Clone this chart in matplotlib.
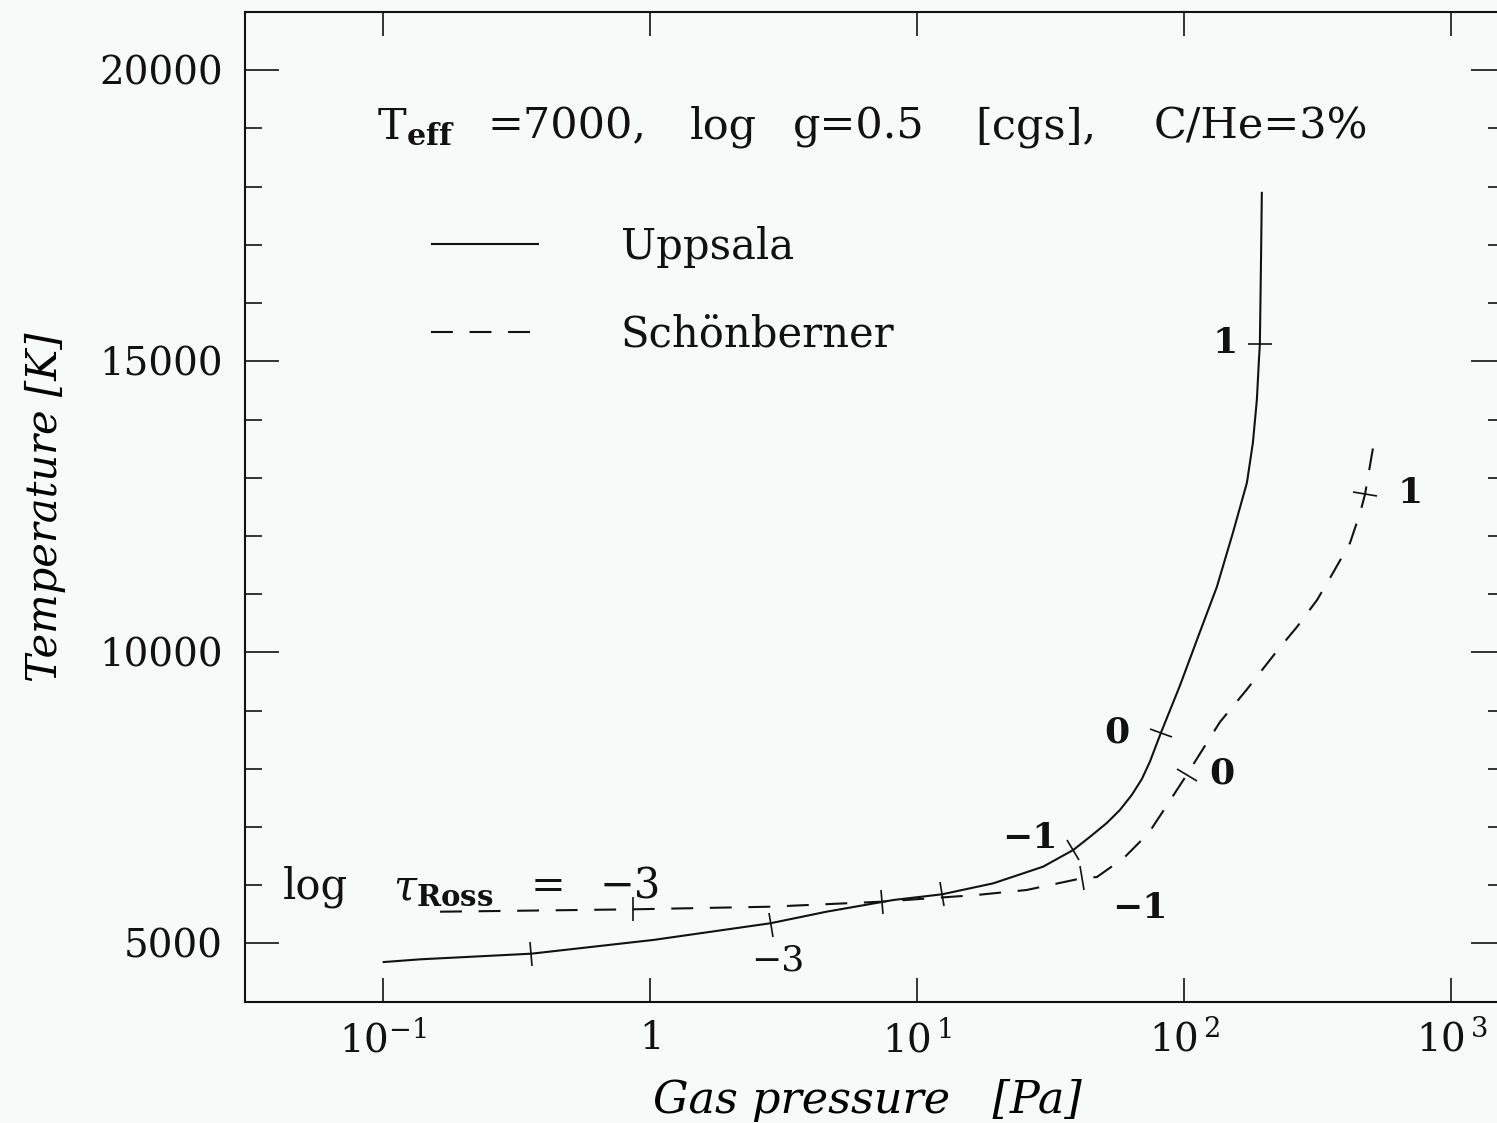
import numpy as np
import matplotlib
matplotlib.use("Agg")
import matplotlib.pyplot as plt
from matplotlib.markers import MarkerStyle
from matplotlib.transforms import Affine2D
from matplotlib.ticker import FixedLocator, FixedFormatter, MultipleLocator, NullLocator

# ---------------- data ----------------
upp_p = [0.100, 0.138, 0.36, 1.03, 2.82, 4.58, 8.15, 12.4, 19.3, 29.6, 38.4,
         44.3, 51.3, 57.4, 63.6, 69.4, 74.3, 81.7, 96.2, 114.4, 132.4, 152,
         171.5, 180.6, 186.9, 190.1, 191.8, 193.5, 195.1]
upp_t = [4680, 4728, 4825, 5061, 5347, 5546, 5747, 5845, 6034, 6319, 6606,
         6830, 7070, 7293, 7551, 7826, 8119, 8616, 9424, 10351, 11125, 12053,
         12912, 13599, 14338, 14991, 15300, 16571, 17911]

sch_p = [0.164, 0.865, 2.82, 7.36, 16.7, 25.7, 41.3, 47.1, 59.4, 73.6, 85.3,
         102, 136, 171, 224, 264, 314, 360, 417, 455, 475, 513]
sch_t = [5546, 5587, 5632, 5718, 5833, 5919, 6120, 6142, 6469, 6898, 7345,
         7894, 8805, 9357, 10044, 10437, 10901, 11365, 11880, 12396, 12722, 13616]

# log tau_Ross = -4 ... 1 markers
upp_tau = [-4, -3, -2, -1, 0, 1]
upp_tick_p = [0.36, 2.85, 12.4, 38.4, 81.7, 191.8]
upp_tick_t = [4825, 5318, 5845, 6606, 8616, 15300]
sch_tau = [-3, -2, -1, 0, 1]
sch_tick_p = [0.865, 7.36, 41.3, 102, 475]
sch_tick_t = [5587, 5718, 6120, 7894, 12722]

x_ticks = [0.1, 1, 10, 100, 1000]
x_tick_labels = [r"$10^{-1}$", r"$1$", r"$10^{\,1}$", r"$10^{\,2}$", r"$10^{\,3}$"]
y_ticks = [5000, 10000, 15000, 20000]
y_tick_labels = ["5000", "10000", "15000", "20000"]

series_names = ["Uppsala", "Schönberner"]

# ---------------- style ----------------
plt.rcParams["font.family"] = ["DejaVu Serif"]
plt.rcParams["mathtext.fontset"] = "dejavuserif"
BG = "#f6faf8"
INK = "#111111"

fig = plt.figure(figsize=(14.97, 11.23), dpi=100, facecolor=BG)
ax = fig.add_axes([0.1637, 0.108, 0.8416, 0.8813], facecolor=BG)

ax.set_xscale("log")
ax.set_xlim(10 ** -1.515, 10 ** 3.2)
ax.set_ylim(4000, 21000)

lw = 1.5
l1, = ax.plot(upp_p, upp_t, color=INK, lw=lw, solid_capstyle="butt")
l2, = ax.plot(sch_p, sch_t, color=INK, lw=lw, dashes=(10.5, 8.0))


def tau_ticks(cp, ct, tp, tt):
    D = ax.transData.transform(np.column_stack([cp, ct]))
    for p, t in zip(tp, tt):
        d = ax.transData.transform((p, t))
        i = int(np.argmin(np.hypot(*(D - d).T)))
        a = D[max(i - 1, 0)]
        b = D[min(i + 1, len(D) - 1)]
        ang = np.degrees(np.arctan2(b[1] - a[1], b[0] - a[0]))
        m = MarkerStyle("|", transform=Affine2D().rotate_deg(ang))
        ax.plot([p], [t], linestyle="none", marker=m, markersize=17,
                markeredgewidth=1.2, color=INK)


tau_ticks(upp_p, upp_t, upp_tick_p, upp_tick_t)
tau_ticks(sch_p, sch_t, sch_tick_p, sch_tick_t)

# ---------------- axes / ticks ----------------
for s in ax.spines.values():
    s.set_linewidth(1.5)
    s.set_color(INK)

ax.xaxis.set_major_locator(FixedLocator(x_ticks))
ax.xaxis.set_major_formatter(FixedFormatter(x_tick_labels))
ax.xaxis.set_minor_locator(NullLocator())
ax.yaxis.set_major_locator(FixedLocator(y_ticks))
ax.yaxis.set_major_formatter(FixedFormatter(y_tick_labels))
ax.yaxis.set_minor_locator(MultipleLocator(1000))

ax.tick_params(axis="both", which="both", direction="in", top=True, right=True,
               colors=INK, width=1.2)
ax.tick_params(axis="x", which="major", length=17, pad=13, labelsize=28)
ax.tick_params(axis="y", which="major", length=24.5, pad=16, labelsize=28)
ax.tick_params(axis="y", which="minor", length=12.5)

ax.set_xlabel("Gas pressure   [Pa]", fontsize=32, style="italic")
ax.set_ylabel("Temperature [K]", fontsize=30, style="italic")
ax.xaxis.set_label_coords(0.494, -0.0993)
ax.xaxis.label.set_verticalalignment("center")
ax.yaxis.set_label_coords(-0.159, 0.5)
ax.yaxis.label.set_verticalalignment("center")

# ---------------- annotations ----------------
def axx(px):
    return (px - 245) / 1260.0


title_pieces = [(r"T$_{\mathbf{eff}}$", 416), ("=7000,", 567), ("log", 723),
                ("g=0.5", 859), ("[cgs],", 1036), ("C/He=3%", 1261)]
for s, px in title_pieces:
    ax.text(axx(px), 0.884, s, transform=ax.transAxes, fontsize=31,
            ha="center", va="center", color=INK)

ross_pieces = [("log", 315), (r"$\tau_{\mathbf{Ross}}$", 443), ("=", 548), ("−3", 630)]
for s, px in ross_pieces:
    ax.text(axx(px), 0.116, s, transform=ax.transAxes, fontsize=30,
            ha="center", va="center", color=INK)

lab_kw = dict(fontsize=26, ha="center", va="center", color=INK)
ax.text(3.01, 4716, "−3", **lab_kw)
ax.text(26.4, 6812, "−1", fontweight="bold", **lab_kw)
ax.text(56, 8617, "0", fontweight="bold", **lab_kw)
ax.text(142, 15318, "1", fontweight="bold", **lab_kw)
ax.text(68.2, 5612, "−1", fontweight="bold", **lab_kw)
ax.text(138, 7928, "0", fontweight="bold", **lab_kw)
ax.text(700, 12740, "1", fontweight="bold", **lab_kw)

leg = ax.legend([l1, l2], series_names, loc="upper left",
                bbox_to_anchor=(0.1476, 0.784), frameon=False, fontsize=30,
                handlelength=2.6, handletextpad=1.95, labelspacing=1.1,
                borderpad=0, borderaxespad=0)
for t in leg.get_texts():
    t.set_color(INK)

fig.savefig("out.png", dpi=100, facecolor=BG)
